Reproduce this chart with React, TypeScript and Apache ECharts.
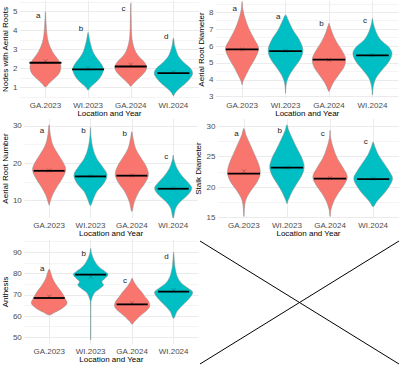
import React, { useEffect, useRef } from 'react';
import * as echarts from 'echarts';

const categories = ['GA.2023', 'WI.2023', 'GA.2024', 'WI.2024'];
const fillColors = ['#F8766D', '#00BFC4', '#F8766D', '#00BFC4'];
const meanColors = ['#A8504A', '#00838A', '#A8504A', '#00838A'];

// each violin: [value, half-width in category units], bottom to top
const nodesProfiles = [
  [[1.02, 0], [1.2, 0.08], [1.45, 0.2], [1.7, 0.31], [2.0, 0.36], [2.3, 0.34], [2.6, 0.25], [2.9, 0.16], [3.3, 0.08], [3.8, 0.035], [4.4, 0.015], [5.0, 0]],
  [[0.85, 0], [1.0, 0.05], [1.2, 0.15], [1.45, 0.26], [1.7, 0.33], [1.95, 0.36], [2.2, 0.32], [2.5, 0.22], [2.8, 0.13], [3.1, 0.08], [3.5, 0.035], [3.9, 0]],
  [[1.05, 0], [1.15, 0.04], [1.4, 0.15], [1.7, 0.29], [2.0, 0.37], [2.3, 0.33], [2.6, 0.2], [2.9, 0.11], [3.3, 0.05], [3.8, 0.02], [4.5, 0.01], [5.45, 0]],
  [[0.55, 0], [0.7, 0.04], [0.9, 0.12], [1.2, 0.28], [1.5, 0.4], [1.75, 0.45], [2.0, 0.4], [2.3, 0.25], [2.6, 0.13], [2.9, 0.07], [3.2, 0.03], [3.6, 0]],
];
const nodesMedians = [2.3, 1.95, 2.1, 1.75];
const nodesMeans = [2.38, 2.0, 2.2, 1.8];
const nodesLetters = ['a', 'b', 'c', 'd'];
const nodesLetterY = [4.82, 4.12, 5.18, 3.68];

const diameterProfiles = [
  [[3.7, 0], [3.9, 0.02], [4.28, 0.09], [4.78, 0.19], [5.37, 0.32], [5.87, 0.38], [6.36, 0.29], [6.95, 0.17], [7.55, 0.08], [8.14, 0.02], [8.63, 0]],
  [[3.2, 0], [3.6, 0.01], [3.9, 0.03], [4.28, 0.09], [4.78, 0.22], [5.27, 0.35], [5.77, 0.4], [6.36, 0.32], [6.95, 0.17], [7.55, 0.06], [7.84, 0]],
  [[3.3, 0], [3.4, 0.02], [3.79, 0.09], [4.28, 0.22], [4.78, 0.35], [5.27, 0.38], [5.77, 0.29], [6.26, 0.17], [6.75, 0.08], [7.25, 0.015], [7.35, 0]],
  [[3.1, 0], [3.6, 0.02], [4.09, 0.08], [4.58, 0.22], [5.08, 0.38], [5.57, 0.45], [5.96, 0.37], [6.36, 0.19], [6.85, 0.08], [7.35, 0.02], [7.64, 0]],
];
const diameterMedians = [5.8, 5.7, 5.2, 5.45];
const diameterMeans = [5.8, 5.72, 5.17, 5.47];
const diameterLetters = ['a', 'a', 'b', 'c'];
const diameterLetterY = [8.24, 7.74, 7.35, 7.5];

const rootNumProfiles = [
  [[8.8, 0], [9.3, 0.015], [11.5, 0.08], [13.75, 0.19], [16, 0.32], [18.2, 0.4], [20, 0.35], [22.2, 0.23], [24.9, 0.09], [27.6, 0.03], [30.3, 0]],
  [[8.7, 0], [10.2, 0.06], [12.4, 0.15], [14.6, 0.32], [16.9, 0.4], [19.1, 0.29], [21.3, 0.15], [24, 0.06], [27, 0.015], [29.6, 0]],
  [[7.1, 0], [9.7, 0.06], [12.4, 0.17], [14.6, 0.31], [16.9, 0.4], [19.1, 0.35], [21.3, 0.23], [24, 0.09], [26.7, 0.03], [28.5, 0]],
  [[5.3, 0], [7.95, 0.06], [9.7, 0.17], [11.5, 0.35], [13.3, 0.45], [14.6, 0.38], [16.4, 0.23], [18.7, 0.09], [20.9, 0.02], [22.2, 0]],
];
const rootNumMedians = [18, 16.5, 16.7, 13.2];
const rootNumMeans = [18.1, 16.6, 16.8, 13.3];
const rootNumLetters = ['a', 'b', 'b', 'c'];
const rootNumLetterY = [28.9, 28.9, 28, 21.8];

const stalkProfiles = [
  [[15.2, 0], [17.1, 0.02], [18.2, 0.06], [19.5, 0.17], [20.9, 0.31], [22.25, 0.38], [23.6, 0.35], [25.3, 0.25], [26.9, 0.15], [28.5, 0.05], [29.6, 0]],
  [[17.3, 0], [17.9, 0.03], [19.3, 0.12], [20.6, 0.23], [22, 0.35], [23.3, 0.4], [24.7, 0.35], [26.1, 0.25], [27.7, 0.14], [29.3, 0.04], [30.2, 0]],
  [[15.2, 0], [16.3, 0.02], [17.6, 0.08], [19, 0.19], [20.3, 0.32], [21.7, 0.4], [23.3, 0.29], [24.7, 0.17], [26.3, 0.08], [28, 0.015], [29.3, 0]],
  [[16.8, 0], [17.6, 0.08], [18.7, 0.22], [20.1, 0.37], [21.4, 0.45], [22.5, 0.38], [23.9, 0.25], [25.3, 0.12], [26.6, 0.04], [27.4, 0]],
];
const stalkMedians = [22.2, 23.2, 21.4, 21.3];
const stalkMeans = [22.6, 23.2, 21.5, 21.4];
const stalkLetters = ['a', 'b', 'c', 'c'];
const stalkLetterY = [28.8, 29.3, 28.8, 27.5];

const anthesisProfiles = [
  [[60.5, 0], [61.8, 0.14], [63.6, 0.31], [66, 0.43], [68.4, 0.38], [71.5, 0.29], [74.6, 0.17], [77.8, 0.08], [80.9, 0.03], [82, 0]],
  [[48.7, 0], [50, 0.004], [60, 0.004], [66.8, 0.008], [68.4, 0.03], [69.9, 0.06], [71.5, 0.12], [73.1, 0.23], [74.6, 0.31], [76.2, 0.27], [77.8, 0.35], [79.6, 0.42], [80.9, 0.35], [83.3, 0.19], [86.4, 0.08], [89.5, 0.02], [91.9, 0]],
  [[56.1, 0], [57.3, 0.05], [59.7, 0.17], [62.1, 0.32], [64.4, 0.42], [66.8, 0.4], [69.1, 0.31], [71.5, 0.22], [73.8, 0.12], [76.2, 0.04], [77.8, 0]],
  [[58.9, 0], [62.1, 0.08], [65.2, 0.22], [68.4, 0.38], [71.2, 0.46], [73.1, 0.35], [75.4, 0.19], [78.5, 0.09], [83.3, 0.03], [88.7, 0.008], [90, 0]],
];
const anthesisMedians = [68.5, 79.5, 65.5, 71.5];
const anthesisMeans = [69.2, 78.5, 66.2, 72.2];
const anthesisLetters = ['a', 'b', 'c', 'd'];
const anthesisLetterY = [82.5, 89.5, 76.5, 88];

const xTitle = 'Location and Year';
const FONT = 'Liberation Sans, Arial, Helvetica, sans-serif';

const panels = [
  { title: 'Nodes with Aerial Roots', profiles: nodesProfiles, medians: nodesMedians, means: nodesMeans, letters: nodesLetters, letterY: nodesLetterY,
    left: 18, width: 181, top: 1, height: 97, min: 0.434, max: 5.566, interval: 1, nameGap: 9 },
  { title: 'Aerial Root Diameter', profiles: diameterProfiles, medians: diameterMedians, means: diameterMeans, letters: diameterLetters, letterY: diameterLetterY,
    left: 216, width: 182.5, top: 1, height: 97, min: 2.92, max: 8.67, interval: 1, nameGap: 7 },
  { title: 'Aerial Root Number', profiles: rootNumProfiles, medians: rootNumMedians, means: rootNumMeans, letters: rootNumLetters, letterY: rootNumLetterY,
    left: 19, width: 179, top: 119, height: 99, min: 5.37, max: 31.87, interval: 10, nameGap: 10 },
  { title: 'Stalk Diameter', profiles: stalkProfiles, medians: stalkMedians, means: stalkMeans, letters: stalkLetters, letterY: stalkLetterY,
    left: 218, width: 181, top: 119, height: 99, min: 14.95, max: 31.15, interval: 5, nameGap: 9 },
  { title: 'Anthesis', profiles: anthesisProfiles, medians: anthesisMedians, means: anthesisMeans, letters: anthesisLetters, letterY: anthesisLetterY,
    left: 19.5, width: 179, top: 240, height: 104, min: 46.85, max: 95.79, interval: 10, nameGap: 10 },
];

export default function App() {
  const ref = useRef<HTMLDivElement>(null);
  useEffect(() => {
    document.body.style.margin = '0';
    const chart = echarts.init(ref.current!, null, { renderer: 'svg' });
    const grid: any[] = [];
    const xAxis: any[] = [];
    const yAxis: any[] = [];
    const series: any[] = [];
    panels.forEach((p, pi) => {
      grid.push({ left: p.left, top: p.top, width: p.width, height: p.height, containLabel: false });
      xAxis.push({
        type: 'value', gridIndex: pi, min: 0.4, max: 4.6, minInterval: 1, maxInterval: 1,
        axisLine: { show: false }, axisTick: { show: false },
        splitLine: { show: true, showMinLine: false, showMaxLine: false, lineStyle: { color: '#EBEBEB', width: 1 } },
        axisLabel: {
          margin: 3, fontSize: 8, color: '#4D4D4D', fontFamily: FONT, showMinLabel: false, showMaxLabel: false,
          formatter: (v: number) => (Math.abs(v - Math.round(v)) < 1e-6 && v >= 1 && v <= 4 ? categories[Math.round(v) - 1] : ''),
        },
        name: xTitle, nameLocation: 'middle', nameGap: 11,
        nameTextStyle: { fontSize: 8, color: '#000', fontFamily: FONT },
      });
      yAxis.push({
        type: 'value', gridIndex: pi, min: p.min, max: p.max, minInterval: p.interval, maxInterval: p.interval,
        axisLine: { show: false }, axisTick: { show: false },
        splitLine: { show: true, showMinLine: false, showMaxLine: false, lineStyle: { color: '#EBEBEB', width: 1 } },
        minorTick: { show: false, splitNumber: 2 },
        minorSplitLine: { show: true, lineStyle: { color: '#F4F4F4', width: 1 } },
        axisLabel: {
          margin: 2.5, fontSize: 8, color: '#4D4D4D', fontFamily: FONT, showMinLabel: false, showMaxLabel: false,
          formatter: (v: number) => (Math.abs(v / p.interval - Math.round(v / p.interval)) < 1e-6 ? String(Math.round(v)) : ''),
        },
        name: p.title, nameLocation: 'middle', nameGap: p.nameGap, nameRotate: 90,
        nameTextStyle: { fontSize: 8, color: '#000', fontFamily: FONT },
      });
      series.push({
        type: 'custom', xAxisIndex: pi, yAxisIndex: pi, silent: true, clip: false,
        data: categories.map((c, i) => [i + 1, p.medians[i]]),
        renderItem: (params: any, api: any) => {
          const i = params.dataIndex;
          const x = i + 1;
          const prof = p.profiles[i];
          const rightSide = prof.map(([v, w]) => api.coord([x + w, v]));
          const leftSide = prof.slice(1, -1).reverse().map(([v, w]) => api.coord([x - w, v]));
          const pts = rightSide.concat(leftSide);
          const m1 = api.coord([x - 0.375, p.medians[i]]);
          const m2 = api.coord([x + 0.375, p.medians[i]]);
          const mc = api.coord([x, p.means[i]]);
          const lt = api.coord([x - 0.17, p.letterY[i]]);
          const s = 2;
          return {
            type: 'group',
            children: [
              { type: 'polygon', shape: { points: pts, smooth: 0.35 }, style: { fill: fillColors[i], stroke: '#8C8C8C', lineWidth: 0.5 } },
              { type: 'line', shape: { x1: mc[0] - s, y1: mc[1] - s, x2: mc[0] + s, y2: mc[1] + s }, style: { stroke: meanColors[i], lineWidth: 0.8 } },
              { type: 'line', shape: { x1: mc[0] - s, y1: mc[1] + s, x2: mc[0] + s, y2: mc[1] - s }, style: { stroke: meanColors[i], lineWidth: 0.8 } },
              { type: 'line', shape: { x1: m1[0], y1: m1[1], x2: m2[0], y2: m2[1] }, style: { stroke: '#000', lineWidth: 1.8 } },
              { type: 'text', x: lt[0], y: lt[1], style: { text: p.letters[i], fill: '#222', font: `8px ${FONT}`, align: 'center', verticalAlign: 'middle' } },
            ],
          };
        },
      });
    });
    chart.setOption({
      animation: false,
      backgroundColor: '#fff',
      grid, xAxis, yAxis, series,
      graphic: [
        { type: 'line', shape: { x1: 200, y1: 241, x2: 399, y2: 364 }, style: { stroke: '#000', lineWidth: 1 } },
        { type: 'line', shape: { x1: 200, y1: 364, x2: 399, y2: 241 }, style: { stroke: '#000', lineWidth: 1 } },
      ],
    });
    return () => chart.dispose();
  }, []);
  return <div ref={ref} style={{ width: 400, height: 365 }} />;
}
